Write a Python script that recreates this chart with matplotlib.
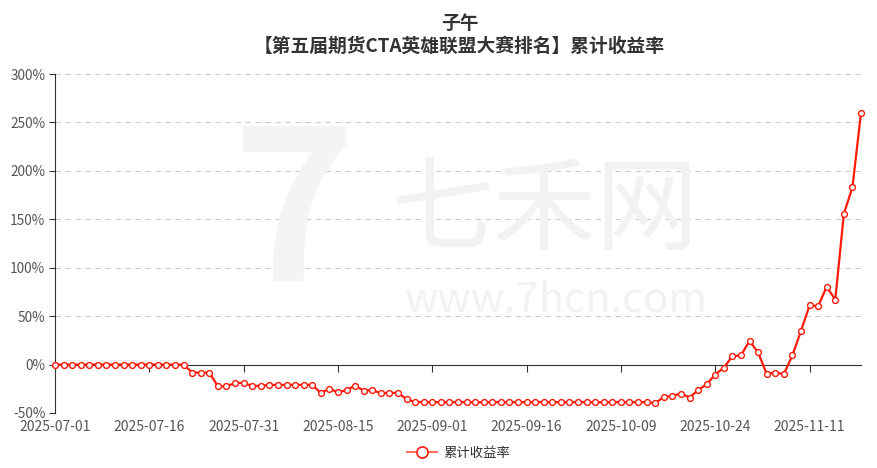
#!/usr/bin/env python3

import numpy as np
import matplotlib.pyplot as plt
from matplotlib.lines import Line2D

plt.rcParams['font.family'] = ['Noto Sans CJK SC', 'DejaVu Sans']

# cumulative return (%) per trading day
returns = [
    0, 0, 0, 0, 0, 0, 0, 0, 0, 0, 0, 0, 0, 0, 0, 0,
    -8.3, -8.3, -8.3, -22.5, -22.5, -19.0, -19.0, -22.0, -22.0,
    -21.0, -21.0, -21.0, -21.0, -21.0, -21.0,
    -29.4, -25.0, -28.7, -26.3, -21.8, -26.8, -26.4, -29.5, -29.2, -29.2,
    -35.7,
    -38.8, -38.8, -38.8, -38.8, -38.8, -38.8, -38.8, -38.8, -38.8, -38.8, -38.8,
    -38.8, -38.8, -38.8, -38.8, -38.8, -38.8, -38.8, -38.8, -38.8, -38.8, -38.8,
    -38.8, -38.8, -38.8, -38.8, -38.8, -38.8,
    -39.8, -33.6, -32.3, -29.9, -34.0, -26.4, -20.3, -10.3, -3.2,
    8.6, 9.6, 24.4, 12.5, -9.6, -8.2, -10.0, 9.6, 34.7,
    61.1, 60.4, 80.4, 67.0, 155.6, 183.0, 260.0,
]

# x axis labels (every 11th trading day)
tick_idx = [0, 11, 22, 33, 44, 55, 66, 77, 88]
tick_labels = ['2025-07-01', '2025-07-16', '2025-07-31', '2025-08-15', '2025-09-01',
               '2025-09-16', '2025-10-09', '2025-10-24', '2025-11-11']
y_ticks = [-50, 0, 50, 100, 150, 200, 250, 300]

x = np.arange(len(returns))
ymin, ymax = -50, 300
red = '#ff1a0a'

fig = plt.figure(figsize=(8.77, 4.68), dpi=100)
ax = fig.add_axes([55 / 877, 55 / 468, 806 / 877, 339 / 468])

# watermark
fig.text(0.335, 0.53, '7', fontsize=150, fontweight='bold', color='#f4f4f4',
         ha='center', va='center', zorder=0)
fig.text(0.622, 0.545, '七禾网', fontsize=74, color='#f2f2f2',
         ha='center', va='center', zorder=0)
fig.text(0.634, 0.358, 'www.7hcn.com', fontsize=30, color='#f2f2f2',
         ha='center', va='center', zorder=0)

ax.patch.set_alpha(0)
ax.plot(x, returns, color=red, lw=1.6, marker='o', markersize=4.2,
        markerfacecolor='white', markeredgecolor=red, markeredgewidth=1,
        clip_on=False, zorder=3)

ax.set_xlim(0, len(returns) - 1)
ax.set_ylim(ymin, ymax)

# dashed grid except the zero line
for v in y_ticks:
    if v != 0:
        ax.axhline(v, color='#cccccc', lw=0.8, ls=(0, (5, 4)), zorder=1)

ax.set_yticks(y_ticks)
ax.set_yticklabels([f'{v}%' for v in y_ticks])
ax.tick_params(axis='y', length=4, width=0.8, color='#333333', labelcolor='#555555',
               labelsize=9.8, pad=3)

for s in ['top', 'right']:
    ax.spines[s].set_visible(False)
ax.spines['left'].set_color('#333333')
ax.spines['bottom'].set_position(('data', 0))
ax.spines['bottom'].set_color('#333333')
ax.set_xticks(tick_idx)
ax.tick_params(axis='x', length=5, width=0.8, color='#333333', labelbottom=False)

# labels at the bottom of the plot
sec = ax.secondary_xaxis(0)
sec.set_xticks(tick_idx)
sec.set_xticklabels(tick_labels)
sec.spines['bottom'].set_visible(False)
sec.tick_params(length=0, labelsize=10, labelcolor='#555555', pad=5)

fig.text(0.524, 0.949, '子午', fontsize=13.5, fontweight='bold', color='#333333',
         ha='center', va='center')
fig.text(0.524, 0.902, '【第五届期货CTA英雄联盟大赛排名】累计收益率', fontsize=13.5,
         fontweight='bold', color='#333333', ha='center', va='center')

handle = Line2D([], [], color='#ff6a60', lw=1.4, marker='o', markersize=8,
                markerfacecolor='white', markeredgecolor=red, markeredgewidth=1.2)
leg = fig.legend([handle], ['累计收益率'], loc='center', bbox_to_anchor=(0.523, 0.033),
                 frameon=False, fontsize=9.6, handlelength=2.2, handletextpad=0.5)
for t in leg.get_texts():
    t.set_color('#333333')

plt.savefig('out.png')
